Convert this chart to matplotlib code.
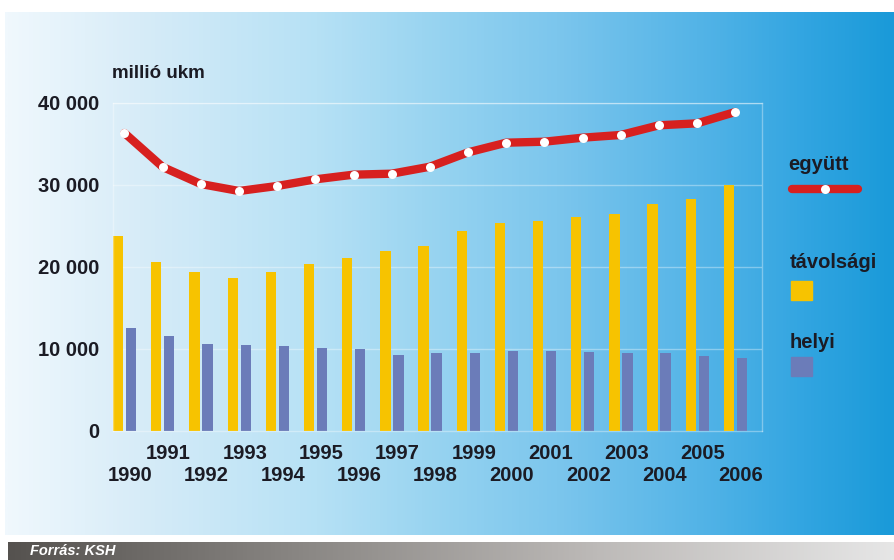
import matplotlib.pyplot as plt
import numpy as np
from matplotlib.colors import LinearSegmentedColormap
from matplotlib.patches import Rectangle

plt.rcParams['font.family'] = ['Liberation Sans', 'DejaVu Sans']

years = list(range(1990, 2007))
tavolsagi = [23780, 20650, 19350, 18620, 19430, 20410, 21100, 21910, 22560,
             24390, 25400, 25570, 26140, 26420, 27680, 28330, 30000]
helyi = [12520, 11590, 10610, 10450, 10330, 10160, 9960, 9310, 9550,
         9550, 9710, 9710, 9630, 9550, 9470, 9150, 8860]
egyutt = [36340, 32200, 30120, 29270, 29880, 30690, 31260, 31380, 32230,
          33980, 35160, 35280, 35770, 36100, 37280, 37520, 38900]
yticks = [0, 10000, 20000, 30000, 40000]

W, H = 894, 560
YELLOW = '#f7c300'
BLUE = '#6b7cb9'
RED = '#d7201f'
TEXT = '#1b1b24'

fig = plt.figure(figsize=(W / 100, H / 100), dpi=100)
fig.patch.set_facecolor('white')

# background layer in pixel coordinates
bg = fig.add_axes([0, 0, 1, 1])
bg.set_xlim(0, W)
bg.set_ylim(H, 0)
bg.axis('off')

sky = LinearSegmentedColormap.from_list('sky', [
    (0.00, (240/255, 248/255, 253/255)),
    (0.15, (215/255, 236/255, 248/255)),
    (0.35, (182/255, 225/255, 245/255)),
    (0.50, (148/255, 210/255, 240/255)),
    (0.62, (124/255, 198/255, 237/255)),
    (0.78, (84/255, 180/255, 231/255)),
    (0.90, (50/255, 165/255, 225/255)),
    (1.00, (26/255, 154/255, 217/255)),
])
grad = np.linspace(0, 1, 512).reshape(1, -1)
bg.imshow(grad, cmap=sky, aspect='auto', extent=(5, W, 535, 12), zorder=0)

grey = LinearSegmentedColormap.from_list('grey', ['#55524f', '#8a8784', '#bdbab8', '#e6e6e6'])
bg.imshow(grad, cmap=grey, aspect='auto', extent=(8, W, H, 542), zorder=0)
bg.text(30, 551, 'Forrás: KSH', color='white', fontsize=10.5, fontweight='bold',
        fontstyle='italic', family=['Liberation Sans Narrow', 'Liberation Sans'],
        va='center', ha='left')

# legend
bg.text(788, 165, 'együtt', color=TEXT, fontsize=14.5, fontweight='bold', va='center', ha='left')
bg.plot([792, 858], [189, 189], color=RED, lw=6, solid_capstyle='round')
bg.plot([825], [189], 'o', color='white', ms=6.5, mew=0)
bg.text(790, 263, 'távolsági', color=TEXT, fontsize=14.5, fontweight='bold', va='center', ha='left')
bg.add_patch(Rectangle((791, 281), 21, 19, color=YELLOW))
bg.text(790, 342, 'helyi', color=TEXT, fontsize=14.5, fontweight='bold', va='center', ha='left')
bg.add_patch(Rectangle((791, 357), 21, 19, color=BLUE))
bg.text(112, 73, 'millió ukm', color=TEXT, fontsize=13.5, fontweight='bold', va='center', ha='left')

# main chart
ax = fig.add_axes([113 / W, (H - 431) / H, 649 / W, 328 / H])
ax.set_facecolor('none')
x = np.arange(len(years))
ax.bar(x, tavolsagi, width=0.27, align='edge', color=YELLOW, zorder=2)
ax.bar(x + 0.34, helyi, width=0.27, align='edge', color=BLUE, zorder=2)
ax.plot(x + 0.3, egyutt, color=RED, lw=6, solid_joinstyle='round',
        solid_capstyle='round', zorder=3)
ax.plot(x + 0.3, egyutt, 'o', color='white', ms=6.5, mew=0, zorder=4)

ax.set_xlim(0, 17)
ax.set_ylim(0, 40000)
ax.set_yticks(yticks)
ax.set_yticklabels([f'{v:,}'.replace(',', ' ') for v in yticks],
                   fontsize=14.5, fontweight='bold', color=TEXT)
ax.tick_params(axis='y', length=0, pad=10)
ax.set_xticks([])
for v in yticks[1:]:
    ax.axhline(v, color='white', lw=1, alpha=0.35, zorder=1)
for s in ax.spines.values():
    s.set_color((1, 1, 1, 0.35))
    s.set_linewidth(1)

for i, yr in enumerate(years):
    off = -16 if yr % 2 else -32
    ax.annotate(str(yr), xy=(i + 0.45, 0), xycoords=('data', 'axes fraction'),
                xytext=(0, off), textcoords='offset points', ha='center', va='center',
                fontsize=14.5, fontweight='bold', color=TEXT, annotation_clip=False)

fig.savefig('out.png', dpi=100)
